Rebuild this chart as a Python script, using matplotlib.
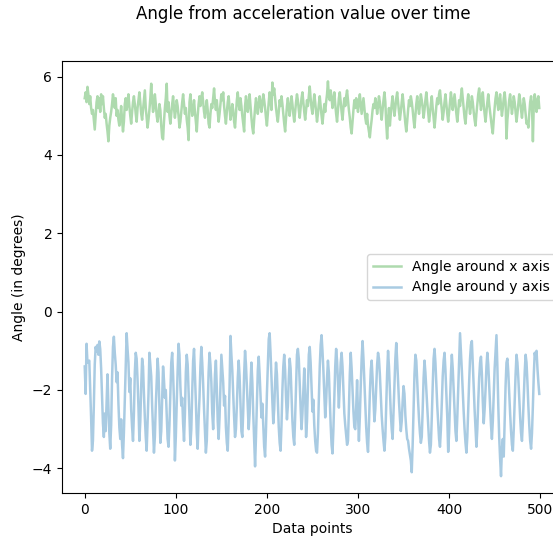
import matplotlib
matplotlib.use("Agg")
import matplotlib.pyplot as plt
import numpy as np

# angle around x axis (degrees), one value per data point
angle_x = [
    5.45, 5.60, 5.35, 5.74, 5.55, 5.30, 5.50, 5.20, 5.05, 5.15, 4.90, 4.65, 5.00, 5.35, 5.50, 5.20, 5.45, 5.10, 5.55, 5.30,
    5.50, 5.20, 4.95, 5.05, 4.80, 4.60, 4.35, 4.75, 4.95, 5.10, 5.30, 5.55, 5.40, 5.20, 5.45, 5.00, 5.15, 4.90, 4.75, 5.00,
    5.25, 4.90, 4.60, 4.85, 5.30, 5.45, 5.15, 5.35, 5.55, 5.25, 5.00, 4.80, 5.10, 5.35, 5.50, 5.30, 5.05, 4.85, 5.20, 5.40,
    5.60, 5.35, 5.05, 4.90, 5.15, 5.40, 5.65, 5.20, 4.95, 4.70, 4.90, 5.15, 5.45, 5.82, 5.40, 5.10, 5.25, 5.55, 5.30, 5.00,
    4.85, 5.05, 5.30, 5.15, 4.75, 4.45, 4.40, 4.85, 5.20, 5.45, 5.82, 5.10, 5.35, 5.00, 4.80, 5.05, 5.30, 5.50, 5.20, 4.95,
    5.15, 5.40, 5.25, 5.00, 4.70, 4.85, 5.10, 5.35, 5.55, 5.30, 5.05, 5.20, 4.90, 4.70, 4.38, 5.35, 5.55, 5.25, 5.00, 5.15,
    5.40, 5.10, 4.85, 4.60, 5.00, 5.30, 5.50, 5.25, 5.45, 5.60, 5.35, 5.10, 4.95, 5.20, 5.40, 5.15, 4.80, 4.70, 5.05, 5.30,
    5.20, 5.45, 5.70, 5.35, 5.15, 5.40, 5.10, 4.85, 5.05, 5.30, 5.55, 5.40, 5.60, 5.25, 5.00, 4.80, 5.10, 5.35, 5.50, 5.20,
    4.90, 5.05, 5.30, 5.15, 4.85, 4.70, 5.05, 5.40, 5.60, 5.30, 5.15, 5.45, 5.25, 5.00, 4.80, 4.60, 5.25, 5.50, 5.35, 5.10,
    5.30, 5.55, 5.25, 4.95, 4.70, 4.55, 4.90, 5.20, 5.45, 5.30, 5.05, 5.25, 5.50, 5.35, 5.10, 5.30, 5.55, 5.40, 5.20, 4.95,
    4.75, 5.05, 5.35, 5.60, 5.40, 5.15, 5.85, 5.55, 5.70, 5.45, 5.20, 5.00, 4.85, 5.10, 5.40, 5.25, 5.50, 5.30, 5.05, 4.80,
    4.60, 4.95, 5.25, 5.45, 5.20, 5.00, 5.25, 5.50, 5.30, 5.05, 4.85, 5.10, 5.35, 5.55, 5.40, 5.15, 4.95, 5.20, 5.45, 5.60,
    5.35, 5.10, 4.90, 5.15, 5.40, 5.25, 5.50, 5.75, 5.45, 5.20, 5.05, 5.30, 5.55, 5.35, 5.10, 4.85, 5.05, 5.30, 5.50, 5.25,
    5.00, 4.80, 5.05, 5.30, 5.10, 5.35, 5.55, 5.88, 5.50, 5.40, 5.65, 5.45, 5.20, 5.40, 5.60, 5.30, 5.05, 4.85, 5.15, 5.45,
    5.60, 5.35, 5.10, 4.90, 5.20, 5.45, 5.25, 5.50, 5.65, 5.40, 5.15, 4.95, 4.70, 4.55, 4.85, 5.15, 5.40, 5.20, 5.45, 5.30,
    5.10, 5.35, 5.55, 5.30, 5.05, 5.25, 5.45, 5.20, 4.95, 4.80, 5.05, 4.75, 4.60, 4.45, 4.70, 4.90, 5.15, 5.30, 5.20, 5.45,
    5.30, 5.05, 5.25, 5.50, 5.35, 5.10, 4.90, 5.15, 5.40, 5.60, 5.35, 4.80, 4.42, 4.90, 5.20, 4.75, 5.05, 5.30, 5.50, 5.25,
    5.00, 5.20, 5.45, 5.60, 5.35, 5.10, 4.90, 5.10, 5.35, 5.55, 5.30, 5.05, 4.80, 4.60, 4.85, 5.15, 5.40, 5.25, 5.50, 5.35,
    5.15, 4.90, 4.70, 5.00, 5.30, 5.50, 5.25, 5.05, 5.30, 5.55, 5.40, 5.20, 4.95, 5.15, 5.40, 5.60, 5.35, 5.10, 4.85, 5.05,
    5.30, 5.50, 5.20, 4.95, 4.70, 4.95, 5.25, 5.45, 5.30, 5.55, 5.65, 5.40, 5.15, 4.90, 5.10, 5.35, 5.55, 5.30, 5.05, 4.85,
    5.10, 5.35, 5.60, 5.40, 5.15, 5.35, 5.55, 5.30, 5.05, 4.85, 5.10, 5.40, 5.25, 5.50, 5.70, 5.45, 5.20, 4.95, 4.80, 5.10,
    5.35, 5.55, 5.30, 5.05, 5.25, 5.50, 5.35, 5.10, 4.90, 4.75, 5.05, 5.30, 5.55, 5.70, 5.40, 5.15, 5.35, 5.60, 5.30, 5.05,
    4.85, 5.10, 5.35, 5.55, 5.30, 5.10, 4.90, 4.70, 4.55, 4.90, 5.20, 5.45, 5.60, 5.35, 5.15, 5.40, 5.55, 5.25, 5.00, 5.20,
    5.45, 5.60, 5.35, 4.42, 4.90, 5.15, 5.40, 5.55, 5.30, 5.05, 5.25, 5.50, 5.35, 5.10, 4.85, 5.05, 5.30, 5.55, 5.40, 5.15,
    4.95, 5.20, 5.45, 5.30, 5.05, 4.80, 4.85, 4.70, 5.05, 5.35, 5.50, 5.25, 4.35, 5.30, 5.55, 5.35, 5.10, 5.40, 5.50, 5.20,
]

# angle around y axis (degrees)
angle_y = [
    -1.40, -2.10, -0.82, -1.30, -1.28, -1.25, -1.95, -2.70, -3.55, -3.30, -2.40, -1.35, -0.90, -1.02, -0.85, -1.10, -0.76, -0.95, -1.45, -2.15,
    -2.85, -3.20, -2.60, -3.05, -2.30, -1.60, -2.40, -3.10, -3.50, -2.90, -1.70, -0.90, -0.64, -1.05, -1.35, -1.80, -1.55, -2.35, -2.95, -3.25,
    -2.75, -3.40, -3.74, -3.10, -2.20, -1.40, -0.55, -0.95, -1.30, -2.05, -1.70, -2.50, -2.95, -3.30, -2.60, -1.55, -1.05, -1.20, -1.75, -2.45,
    -3.30, -2.80, -1.90, -1.20, -1.40, -2.10, -2.70, -3.20, -3.55, -2.85, -2.10, -1.05, -1.35, -1.65, -2.40, -3.00, -3.60, -3.20, -2.40, -1.80,
    -1.20, -1.55, -2.45, -3.35, -3.05, -2.20, -1.40, -1.75, -2.20, -2.00, -2.60, -3.25, -3.45, -2.90, -2.10, -1.30, -1.05, -1.60, -2.30, -3.80,
    -3.20, -2.35, -1.50, -0.82, -1.10, -1.90, -2.40, -2.20, -2.85, -3.30, -2.60, -1.55, -1.10, -1.35, -2.00, -2.70, -3.40, -3.00, -2.05, -1.25,
    -0.95, -1.60, -2.30, -3.10, -3.50, -2.75, -2.20, -1.40, -0.90, -1.30, -1.85, -2.50, -3.05, -3.60, -3.30, -2.40, -1.55, -1.05, -1.35, -1.80,
    -2.60, -3.00, -2.30, -1.60, -1.25, -1.95, -2.80, -3.25, -2.70, -1.90, -1.10, -1.45, -1.80, -2.40, -2.15, -2.95, -3.35, -3.55, -2.80, -1.90,
    -0.62, -1.10, -1.50, -2.10, -2.70, -3.20, -3.00, -2.40, -1.70, -1.25, -1.65, -2.35, -3.05, -3.20, -2.55, -1.60, -1.00, -1.35, -1.90, -2.50,
    -3.00, -2.60, -1.85, -1.30, -1.80, -2.60, -3.30, -3.95, -3.20, -2.30, -1.50, -1.15, -1.60, -2.15, -2.70, -2.35, -2.90, -3.45, -3.70, -3.00,
    -2.10, -1.40, -0.70, -0.55, -1.05, -1.70, -2.30, -2.85, -2.50, -1.80, -1.30, -1.60, -2.30, -2.95, -3.35, -3.55, -2.90, -2.00, -1.40, -1.10,
    -1.50, -2.20, -2.75, -2.40, -1.70, -1.20, -1.45, -2.10, -2.80, -3.20, -3.40, -2.70, -1.90, -1.10, -0.95, -1.20, -1.85, -2.45, -3.00, -2.60,
    -2.05, -1.45, -2.10, -3.20, -2.80, -1.90, -1.10, -0.90, -1.30, -1.95, -2.55, -2.25, -2.90, -3.30, -3.55, -3.60, -3.10, -2.20, -1.40, -0.85,
    -0.60, -1.00, -1.50, -2.10, -2.70, -2.30, -1.70, -1.25, -1.55, -2.20, -2.90, -3.40, -3.62, -3.00, -2.20, -1.40, -0.95, -1.25, -1.80, -2.45,
    -1.85, -1.30, -1.05, -1.40, -2.00, -2.60, -2.90, -3.15, -3.40, -3.30, -2.50, -1.60, -1.05, -1.45, -2.00, -2.55, -2.95, -3.00, -2.45, -1.75,
    -2.60, -3.30, -2.70, -1.90, -1.20, -0.75, -1.20, -1.80, -2.40, -2.95, -3.35, -3.58, -2.90, -2.10, -1.50, -1.25, -1.70, -2.25, -2.80, -2.50,
    -1.90, -1.35, -1.05, -1.20, -1.60, -2.10, -2.65, -3.00, -3.30, -3.55, -3.20, -2.40, -1.55, -1.00, -1.40, -2.00, -2.60, -3.00, -3.25, -2.55,
    -1.85, -1.20, -0.80, -1.25, -1.80, -2.30, -2.70, -3.05, -2.80, -2.30, -1.90, -2.10, -2.65, -3.00, -3.25, -3.30, -3.50, -3.65, -3.80, -4.10,
    -3.40, -2.50, -1.60, -1.10, -1.25, -1.80, -2.30, -2.75, -3.10, -3.35, -3.20, -2.50, -1.70, -1.25, -1.55, -2.00, -2.45, -2.90, -3.30, -3.60,
    -3.40, -2.70, -1.90, -1.20, -0.95, -1.30, -1.85, -2.40, -2.85, -3.25, -3.45, -3.00, -2.30, -1.65, -1.25, -1.05, -1.50, -2.10, -2.70, -3.58,
    -3.10, -2.30, -1.60, -1.10, -1.45, -2.00, -2.60, -3.05, -3.30, -2.70, -2.00, -1.25, -0.55, -1.00, -1.50, -2.05, -2.55, -3.00, -3.35, -3.60,
    -3.20, -2.50, -1.80, -1.20, -0.85, -0.75, -1.30, -1.90, -2.50, -3.00, -3.45, -3.00, -2.30, -1.70, -1.30, -1.15, -1.60, -2.30, -2.85, -2.50,
    -2.00, -1.40, -1.05, -1.35, -1.90, -2.40, -2.90, -3.25, -2.80, -2.10, -1.45, -1.00, -0.60, -1.40, -2.40, -3.20, -3.75, -4.20, -3.50, -3.25,
    -3.70, -2.80, -1.90, -1.30, -1.20, -1.55, -2.10, -2.60, -3.05, -3.40, -3.55, -3.00, -2.30, -1.60, -1.10, -1.30, -1.70, -2.20, -2.70, -3.10,
    -3.30, -2.80, -2.20, -1.55, -1.10, -1.30, -1.80, -2.40, -2.90, -3.30, -3.50, -3.10, -2.40, -1.60, -1.05, -1.20, -1.00, -1.45, -1.80, -2.10,
]

points = np.arange(len(angle_x))

fig = plt.figure(figsize=(5.53, 5.47), dpi=100)
# the original picture is cut off on the right, so the axes run past the edge
ax = fig.add_axes([62 / 553, 1 - 493 / 547, 500 / 553, 432 / 547])

ax.plot(points, angle_x, color="tab:green", alpha=0.38, lw=1.8, label="Angle around x axis")
ax.plot(points, angle_y, color="tab:blue", alpha=0.38, lw=1.8, label="Angle around y axis")

ax.set_ylim(-4.63, 6.40)
ax.set_xlabel("Data points")
ax.set_ylabel("Angle (in degrees)")
ax.legend(loc="center right")

fig.text(303 / 553, 1 - 14 / 547, "Angle from acceleration value over time",
         ha="center", va="center", fontsize=12)

fig.savefig("out.png", dpi=100)
